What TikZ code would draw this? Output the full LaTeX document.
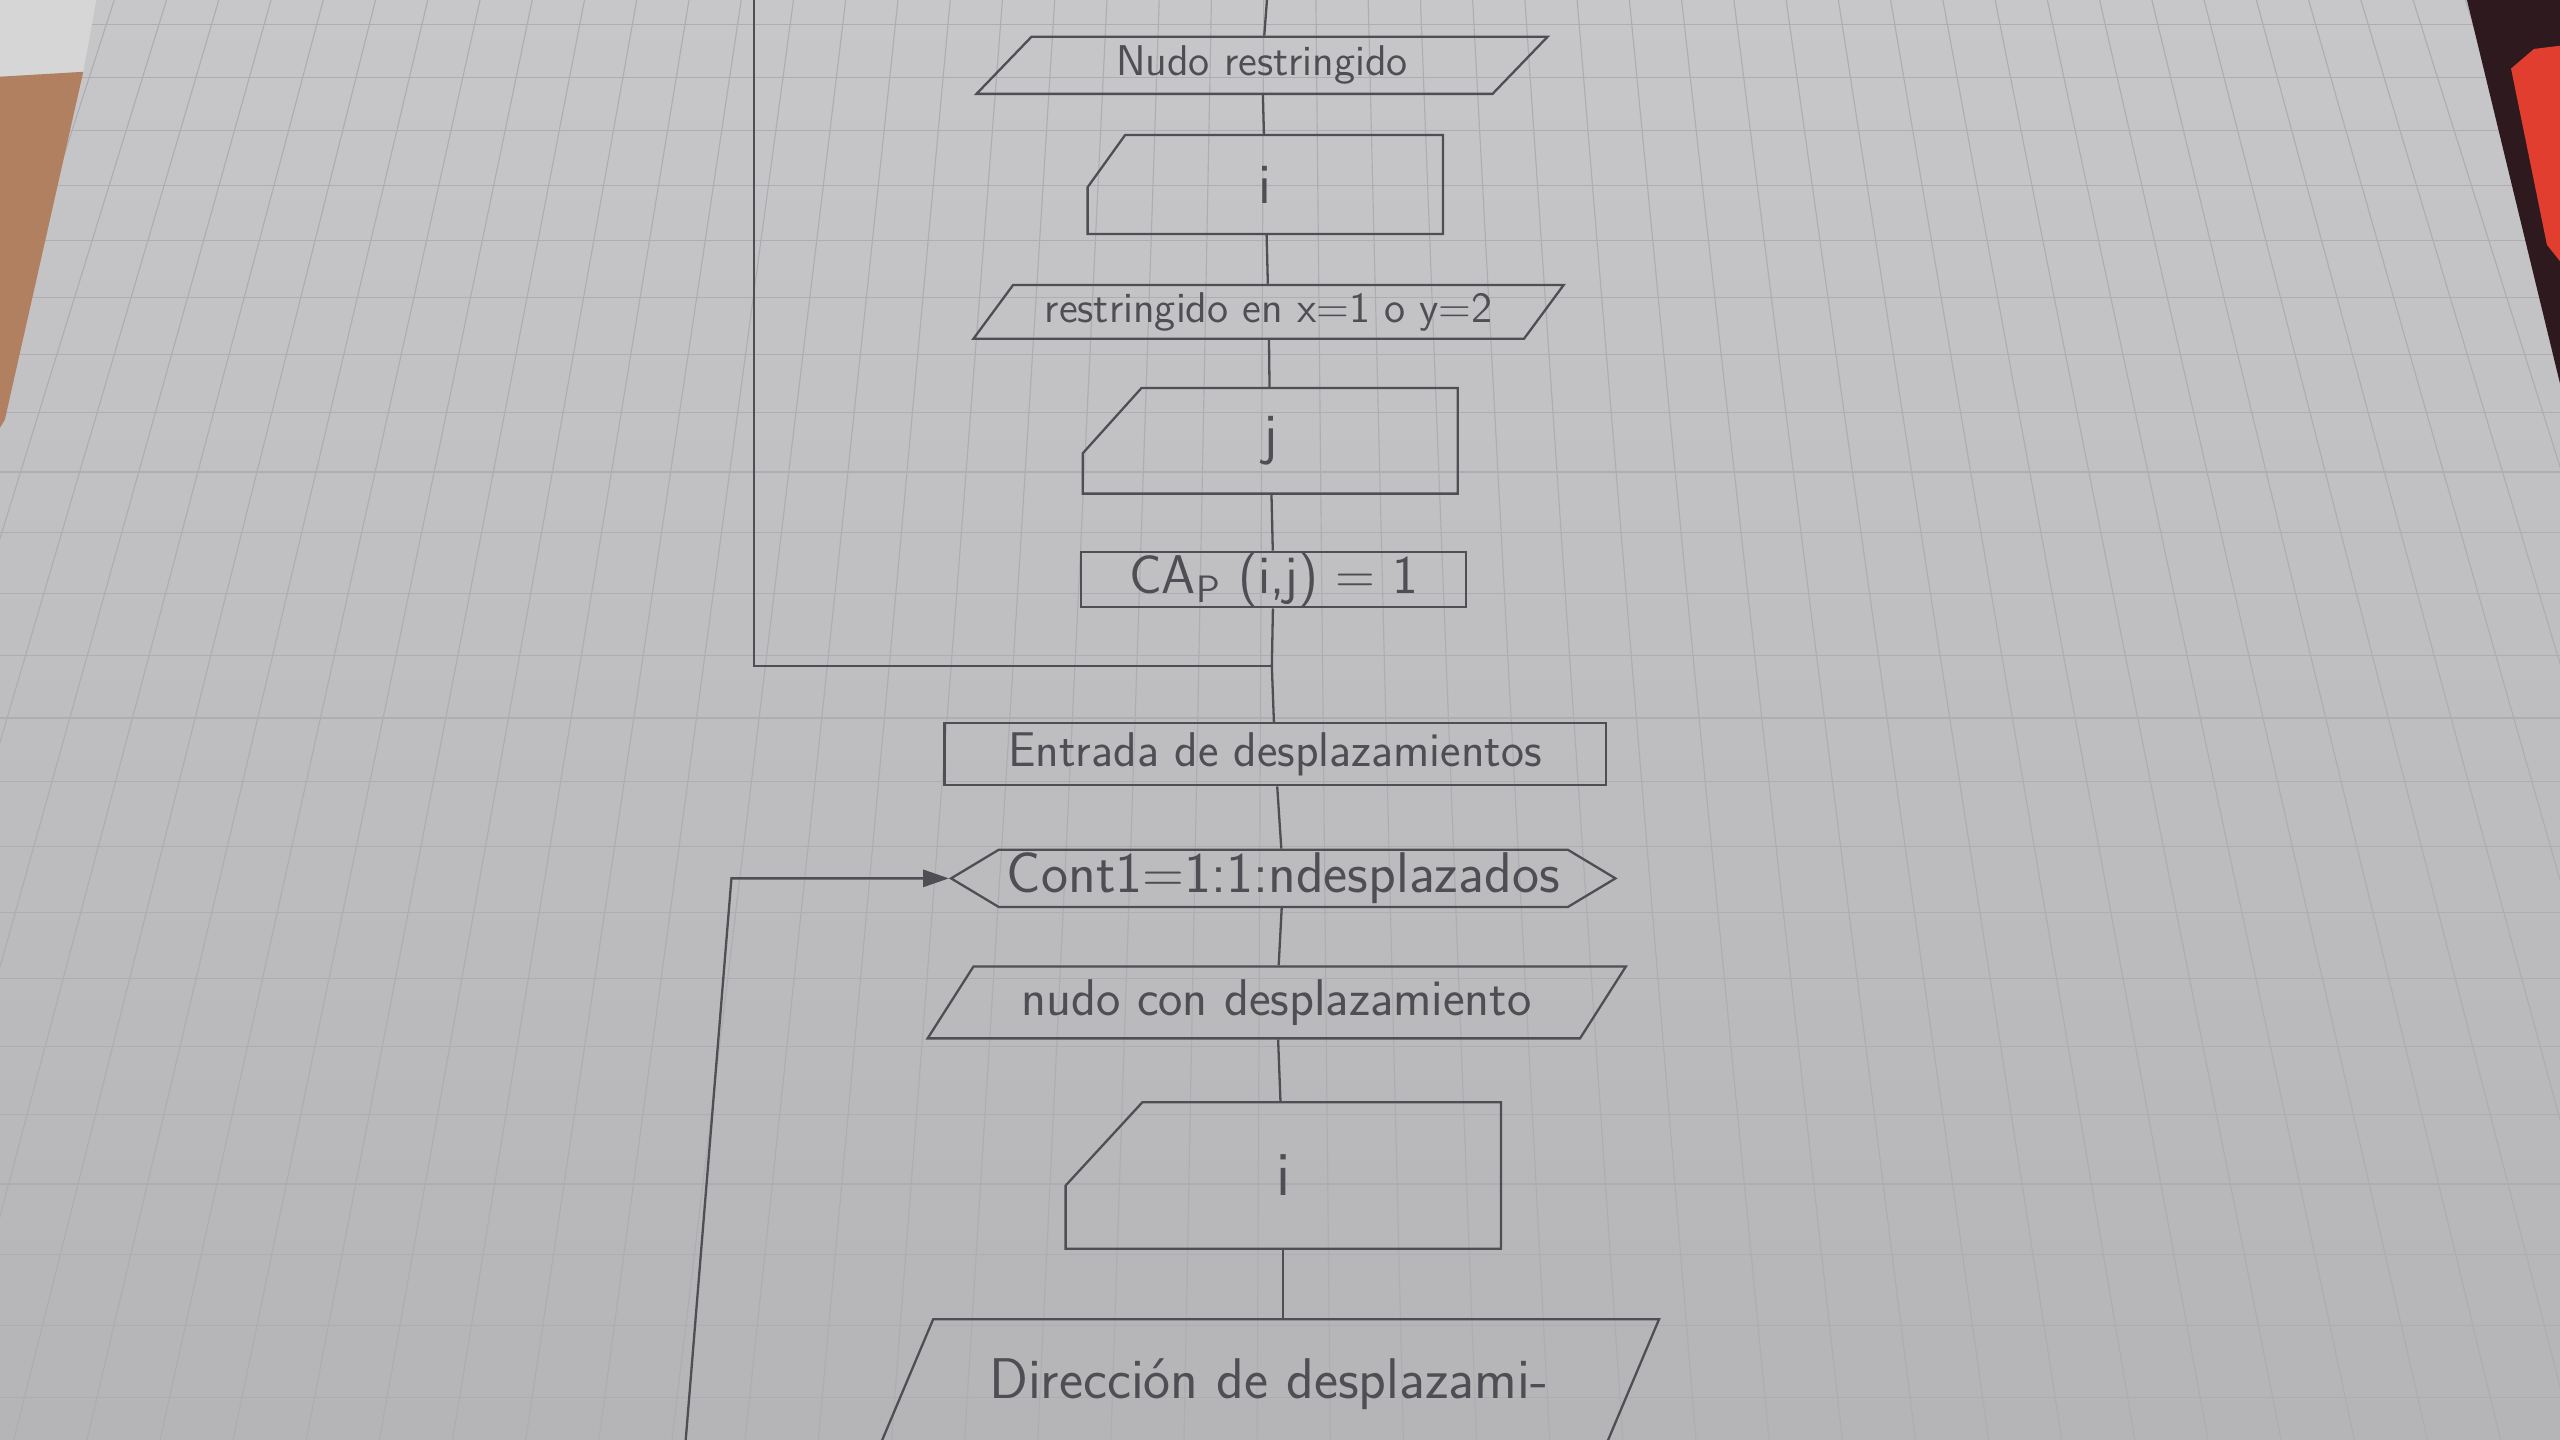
\documentclass[tikz,border=0pt]{standalone}
\usetikzlibrary{shapes.geometric,shapes.symbols,arrows.meta}
\definecolor{papertop}{RGB}{199,199,201}
\definecolor{paperbottom}{RGB}{181,181,183}
\definecolor{gridgray}{RGB}{174,174,178}
\definecolor{pencil}{RGB}{78,78,84}
\definecolor{deskwhite}{RGB}{214,214,214}
\definecolor{tablebrown}{RGB}{176,128,96}
\definecolor{darkedge}{RGB}{45,25,30}
\definecolor{penred}{RGB}{225,62,48}

\tikzset{
  wire/.style={draw=pencil, line width=0.8pt},
  io/.style={trapezium, trapezium stretches=true, draw=pencil, line width=0.8pt, text=pencil, inner sep=0pt, trapezium left angle=48, trapezium right angle=132},
  proc/.style={rectangle, draw=pencil, line width=0.8pt, text=pencil, inner sep=0pt},
  card/.style={rectangle, inner sep=0pt, text=pencil},
  loopbox/.style={signal, signal to=west and east, draw=pencil, line width=0.8pt, text=pencil, inner sep=0pt}
}
\newcommand{\hand}[1]{\sffamily\fontsize{#1}{#1}\selectfont}
\newcommand{\cardedge}[3]{\draw[wire] ([yshift=-#3]#1.north west) -- ([xshift=#2]#1.north west) -- (#1.north east) -- (#1.south east) -- (#1.south west) -- cycle;}

\begin{document}
\begin{tikzpicture}[x=0.02cm, y=-0.02cm]
    \useasboundingbox (0,0) rectangle (1568,882);
    \clip (0,0) rectangle (1568,882);

    % Squared paper
    \shade[top color=papertop, bottom color=paperbottom] (0,0) rectangle (1568,882);
    \foreach \m in {-26,...,34}
        \draw[gridgray, line width=0.4pt] ({582+32*\m},0) -- ({784+(582+32*\m-784)*1.4},882);
    \foreach \k in {0,...,24}
        \draw[gridgray, line width=0.4pt] (0,{15+32*\k+0.283*\k*\k}) -- (1568,{15+32*\k+0.283*\k*\k});

    % Desk and pen at the corners
    \fill[deskwhite] (0,0) -- (59,0) -- (51,44) -- (0,47) -- cycle;
    \fill[tablebrown] (0,47) -- (51,44) -- (3,257) -- (0,262) -- cycle;
    \fill[darkedge] (1511,0) -- (1568,0) -- (1568,235) -- cycle;
    \fill[penred] (1538,42) -- (1552,30) -- (1568,28) -- (1568,160) -- (1560,150) -- cycle;

    % Loose ends
    \coordinate (top) at (776,0);
    \coordinate (lt) at (462,0);
    \coordinate (jn) at (779,408);
    \coordinate (lb) at (420,882);
    \coordinate (lc) at (448,538);

    % Restricted node
    \node[io, minimum width=7cm, minimum height=0.7cm, font=\hand{15}] (nr) at (773,40) {Nudo restringido};

    % Card i
    \node[card, minimum width=4.34cm, minimum height=1.2cm, font=\hand{20}] (ci) at (775,113) {i};
    \cardedge{ci}{0.46cm}{0.64cm}

    % Restriction
    \node[io, minimum width=7.24cm, minimum height=0.66cm, font=\hand{15}] (rx) at (777,191) {restringido en x=1 o y=2};

    % Card j
    \node[card, minimum width=4.58cm, minimum height=1.28cm, font=\hand{20}] (cj) at (778,270) {j};
    \cardedge{cj}{0.72cm}{0.8cm}

    % Assignment
    \node[proc, minimum width=4.72cm, minimum height=0.68cm, font=\hand{19}] (ca) at (780,355) {CA\textsubscript{P} (i,j) = 1};

    % Displacement input
    \node[proc, minimum width=8.1cm, minimum height=0.76cm, font=\hand{17}] (en) at (781,462) {Entrada de desplazamientos};

    % Loop
    \node[loopbox, minimum width=8.14cm, minimum height=0.7cm, signal pointer angle=62, font=\hand{20}] (hx) at (786,538) {Cont1=1:1:ndesplazados};

    % Displaced node
    \node[io, minimum width=8.56cm, minimum height=0.88cm, trapezium left angle=50, trapezium right angle=130, font=\hand{18}] (nd) at (782,614) {nudo con desplazamiento};

    % Card i again
    \node[card, minimum width=5.32cm, minimum height=1.78cm, font=\hand{22}] (cii) at (786,720) {i};
    \cardedge{cii}{0.94cm}{1.02cm}

    % Direction
    \node[io, minimum width=9.6cm, minimum height=1.6cm, font=\hand{20}] (dd) at (777,848) {Dirección de desplazami-};

    % Flow lines
    \draw[wire] (top) -- (nr);
    \draw[wire] (nr) -- (ci);
    \draw[wire] (ci) -- (rx);
    \draw[wire] (rx) -- (cj);
    \draw[wire] (cj) -- (ca);
    \draw[wire] (ca) -- (jn) -- (en);
    \draw[wire] (lt) |- (jn);
    \draw[wire] (en) -- (hx);
    \draw[wire, -{Triangle[length=9pt,width=6pt]}] (lb) -- (lc) -- (hx.west);
    \draw[wire] (hx) -- (nd);
    \draw[wire] (nd) -- (cii);
    \draw[wire] (cii) -- (cii |- dd.north);
\end{tikzpicture}
\end{document}
